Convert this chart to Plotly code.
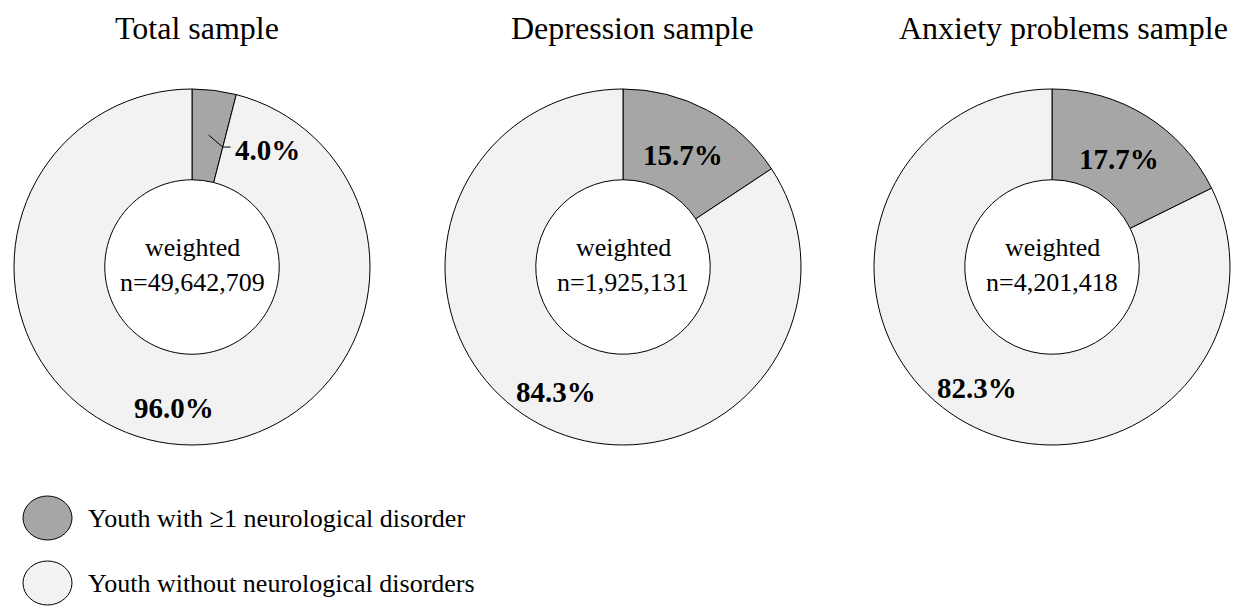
import math
import plotly.graph_objects as go

# ---- data ----
titles = ["Total sample", "Depression sample", "Anxiety problems sample"]
categories = ["Youth with \u22651 neurological disorder", "Youth without neurological disorders"]
with_disorder = [4.0, 15.7, 17.7]
without_disorder = [96.0, 84.3, 82.3]
weighted_n = ["n=49,642,709", "n=1,925,131", "n=4,201,418"]

# ---- styling / layout ----
W, H = 1238, 606
colors = ["#A6A6A6", "#F2F2F2"]
serif = "Liberation Serif, Times New Roman, serif"
centers_x = [192, 623, 1052]
center_y = 267
R = 178
title_x = [197, 632, 1063]


def px(x):
    return x / W


def py(y):
    return 1 - y / H


fig = go.Figure()
annotations = []
shapes = []

for i in range(3):
    cx = centers_x[i]
    vals = [with_disorder[i], without_disorder[i]]
    fig.add_trace(go.Pie(
        values=vals,
        labels=categories,
        hole=0.49,
        sort=False,
        direction="clockwise",
        rotation=0,
        textinfo="none",
        hoverinfo="label+percent",
        marker=dict(colors=colors, line=dict(color="#000000", width=1)),
        domain=dict(x=[px(cx - R), px(cx + R)], y=[py(center_y + R), py(center_y - R)]),
        showlegend=False,
    ))
    # title
    annotations.append(dict(x=px(title_x[i]), y=py(28), xref="paper", yref="paper",
                            text=titles[i], showarrow=False, xanchor="center", yanchor="middle",
                            font=dict(family=serif, size=32, color="#000")))
    # centre text
    annotations.append(dict(x=px(cx), y=py(247), xref="paper", yref="paper",
                            text="weighted", showarrow=False, xanchor="center", yanchor="middle",
                            font=dict(family=serif, size=26, color="#000")))
    annotations.append(dict(x=px(cx), y=py(282), xref="paper", yref="paper",
                            text=weighted_n[i], showarrow=False, xanchor="center", yanchor="middle",
                            font=dict(family=serif, size=26, color="#000")))
    # percentage labels placed at slice mid-angles
    total = sum(vals)
    start = 0.0
    for j, v in enumerate(vals):
        frac = v / total
        mid = (start + frac / 2) * 2 * math.pi
        start += frac
        label = f"{v:.1f}%"
        if frac < 0.08:
            r0 = 133
            sx = cx + r0 * math.sin(mid)
            sy = center_y - r0 * math.cos(mid)
            ex, ey = sx + 14, sy + 12
            shapes.append(dict(type="line", xref="paper", yref="paper",
                               x0=px(sx), y0=py(sy), x1=px(ex), y1=py(ey),
                               line=dict(color="#000", width=1)))
            shapes.append(dict(type="line", xref="paper", yref="paper",
                               x0=px(ex), y0=py(ey), x1=px(ex + 8), y1=py(ey),
                               line=dict(color="#000", width=1)))
            annotations.append(dict(x=px(ex + 10), y=py(ey + 3), xref="paper", yref="paper",
                                    text=f"<b>{label}</b>", showarrow=False,
                                    xanchor="left", yanchor="middle",
                                    font=dict(family=serif, size=29, color="#000")))
        else:
            rr = 142 if frac > 0.5 else 127
            tx = cx + rr * math.sin(mid)
            ty = center_y - rr * math.cos(mid)
            annotations.append(dict(x=px(tx), y=py(ty), xref="paper", yref="paper",
                                    text=f"<b>{label}</b>", showarrow=False,
                                    xanchor="center", yanchor="middle",
                                    font=dict(family=serif, size=29, color="#000")))

# legend (circles + text)
legend_y = [518, 583]
for k in range(2):
    shapes.append(dict(type="circle", xref="paper", yref="paper",
                       x0=px(23), x1=px(72), y0=py(legend_y[k] - 22), y1=py(legend_y[k] + 22),
                       fillcolor=colors[k], line=dict(color="#000", width=1)))
    annotations.append(dict(x=px(86), y=py(legend_y[k]), xref="paper", yref="paper",
                            text=categories[k], showarrow=False, xanchor="left", yanchor="middle",
                            font=dict(family=serif, size=26, color="#000")))

fig.update_layout(
    width=W, height=H,
    margin=dict(l=0, r=0, t=0, b=0),
    paper_bgcolor="white",
    plot_bgcolor="white",
    annotations=annotations,
    shapes=shapes,
)

fig.write_html("out.html",
               config={"displayModeBar": False},
               post_script="document.body.style.margin='0';document.body.style.overflow='hidden';")
